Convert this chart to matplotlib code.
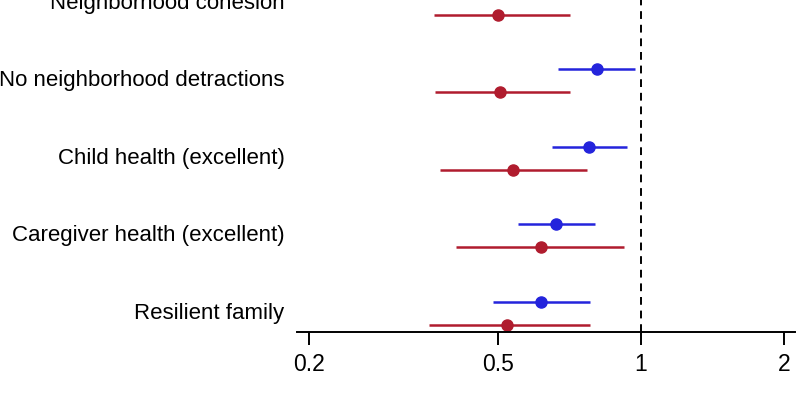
import matplotlib

matplotlib.use("Agg")
import matplotlib.pyplot as plt
from matplotlib.ticker import FixedLocator, NullLocator

plt.rcParams["font.family"] = ["Liberation Sans", "DejaVu Sans"]

# rows listed bottom to top
labels = [
    "Resilient family",
    "Caregiver health (excellent)",
    "Child health (excellent)",
    "No neighborhood detractions",
    "Neighborhood cohesion",
]
blue_est = [0.616, 0.662, 0.777, 0.808, 0.72]
blue_lo = [0.488, 0.551, 0.650, 0.669, 0.60]
blue_hi = [0.781, 0.800, 0.934, 0.971, 0.80]
red_est = [0.522, 0.616, 0.538, 0.505, 0.500]
red_lo = [0.358, 0.408, 0.377, 0.368, 0.367]
red_hi = [0.781, 0.921, 0.770, 0.709, 0.709]
tick_values = [0.2, 0.5, 1, 2]
tick_labels = ["0.2", "0.5", "1", "2"]

BLUE = "#2424dc"
RED = "#b01c2e"
OFFSET = 0.148

fig = plt.figure(figsize=(8, 4.19), dpi=100)
ax = fig.add_axes([297 / 800, 87 / 419, 498 / 800, 332 / 419])

for i in range(len(labels)):
    yb = i + OFFSET
    yr = i - OFFSET
    ax.plot([blue_lo[i], blue_hi[i]], [yb, yb], color=BLUE, lw=1.8,
            solid_capstyle="butt")
    ax.plot(blue_est[i], yb, "o", color=BLUE, ms=8)
    ax.plot([red_lo[i], red_hi[i]], [yr, yr], color=RED, lw=1.8,
            solid_capstyle="butt")
    ax.plot(red_est[i], yr, "o", color=RED, ms=8)
    ax.text(-0.025, i, labels[i], transform=ax.get_yaxis_transform(),
            ha="right", va="center", fontsize=16, clip_on=False)

ax.axvline(1, color="black", lw=1.4, ls=(0, (4, 3)))

ax.set_xscale("log")
ax.set_xlim(0.1887, 2.11)
ax.set_ylim(-0.239, 4.039)
ax.xaxis.set_major_locator(FixedLocator(tick_values))
ax.xaxis.set_minor_locator(NullLocator())
ax.set_xticklabels(tick_labels)
ax.tick_params(axis="x", length=9, width=1.4, labelsize=16.5, pad=6)
ax.set_yticks([])
for side in ("top", "right", "left"):
    ax.spines[side].set_visible(False)
ax.spines["bottom"].set_linewidth(1.4)

fig.savefig("out.png", dpi=100)
